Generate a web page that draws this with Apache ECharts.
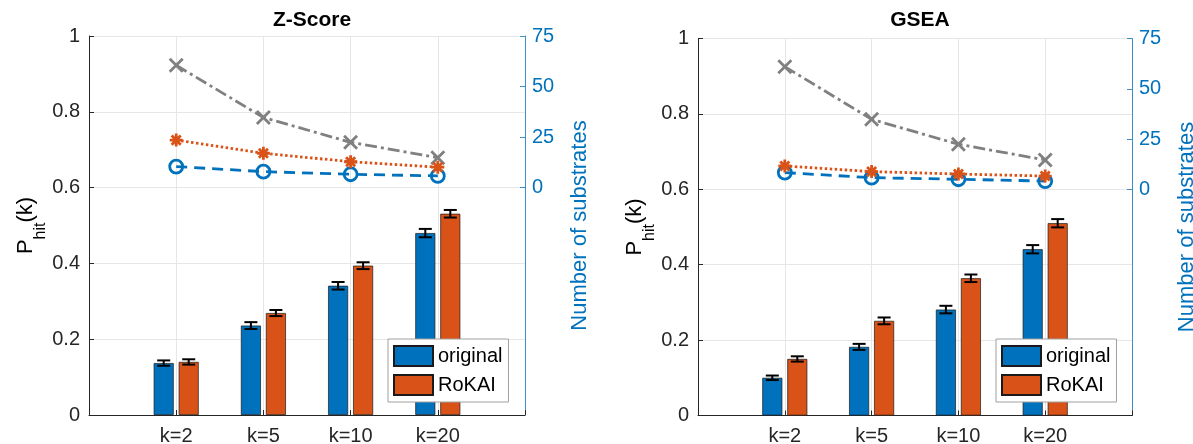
<!DOCTYPE html>
<html><head><meta charset="utf-8">
<script src="https://cdn.jsdelivr.net/npm/echarts@6/dist/echarts.min.js"></script>
<style>html,body{margin:0;padding:0;background:#fff}#c{width:1193px;height:444px}</style>
</head><body><div id="c"></div>
<script>
// ---- data ----
const categories = ['', 'k=2', 'k=5', 'k=10', 'k=20', ''];
const rightTicks = [0, 25, 50, 75];
const panelTitles = ['Z-Score', 'GSEA'];
const seriesNames = ['original', 'RoKAI'];
// Z-Score panel
const zOriginal = [0.137, 0.236, 0.341, 0.480];
const zOriginalErr = [0.007, 0.009, 0.010, 0.011];
const zRokai = [0.140, 0.269, 0.394, 0.531];
const zRokaiErr = [0.007, 0.008, 0.009, 0.010];
const zGray = [60.5, 34.7, 22.4, 14.8];
const zOrange = [23.5, 17.0, 12.8, 10.1];
const zBlue = [10.4, 7.9, 6.6, 5.8];
// GSEA panel
const gOriginal = [0.100, 0.182, 0.281, 0.441];
const gOriginalErr = [0.006, 0.008, 0.010, 0.011];
const gRokai = [0.150, 0.251, 0.364, 0.510];
const gRokaiErr = [0.007, 0.009, 0.010, 0.011];
const gGray = [61.0, 34.8, 22.4, 14.6];
const gOrange = [11.6, 8.8, 7.6, 6.6];
const gBlue = [8.3, 5.8, 5.0, 4.1];

// ---- styling / layout ----
const FONT = '"Liberation Sans", Arial, Helvetica, sans-serif';
const BLUE = '#0072BD', ORANGE = '#D95319', GRAY = '#808080', AX = '#262626', GRID = '#e6e6e6';
const grids = [
  {left: 89, top: 36, width: 436, height: 379},
  {left: 698, top: 38.5, width: 434, height: 377}
];
const legendPos = [{left: 388, top: 339}, {left: 996, top: 339}];
const titleX = [307, 915];
const panels = [
  {orig: zOriginal, origErr: zOriginalErr, rok: zRokai, rokErr: zRokaiErr, gray: zGray, orange: zOrange, blue: zBlue},
  {orig: gOriginal, origErr: gOriginalErr, rok: gRokai, rokErr: gRokaiErr, gray: gGray, orange: gOrange, blue: gBlue}
];
const pad = a => ['-'].concat(a, ['-']);
const errData = (v, e) => v.map((y, i) => [i + 1, y, e[i]]);
function errRender(offset) {
  return function (params, api) {
    const x = api.value(0), y = api.value(1), e = api.value(2);
    const t = api.coord([x, y + e]), b = api.coord([x, y - e]);
    const cx = t[0] + offset, hw = 6.5;
    const st = {stroke: '#000', lineWidth: 2};
    return {type: 'group', children: [
      {type: 'line', shape: {x1: cx, y1: t[1], x2: cx, y2: b[1]}, style: st},
      {type: 'line', shape: {x1: cx - hw, y1: t[1], x2: cx + hw, y2: t[1]}, style: st},
      {type: 'line', shape: {x1: cx - hw, y1: b[1], x2: cx + hw, y2: b[1]}, style: st}
    ]};
  };
}

const option = {
  animation: false,
  textStyle: {fontFamily: FONT},
  title: panelTitles.map((t, i) => ({
    text: t, left: titleX[i], top: 5, textAlign: 'center',
    textStyle: {fontSize: 21, fontWeight: 'bold', color: '#000', fontFamily: FONT}
  })),
  legend: legendPos.map(p => ({
    data: seriesNames, left: p.left, top: p.top, orient: 'vertical',
    itemWidth: 39, itemHeight: 20, itemGap: 7, padding: [6, 6, 6, 5],
    icon: 'rect', selectedMode: false, backgroundColor: '#fff',
    borderColor: '#a0a0a0', borderWidth: 1,
    textStyle: {fontSize: 20, color: '#000', fontFamily: FONT}
  })),
  grid: grids.map(g => Object.assign({outerBoundsMode: 'none', containLabel: false}, g)),
  xAxis: grids.map((g, i) => ({
    type: 'category', gridIndex: i, data: categories, boundaryGap: false,
    axisLine: {lineStyle: {color: AX, width: 1}},
    axisTick: {show: true, inside: true, length: 5, interval: 0, lineStyle: {color: AX}},
    axisLabel: {interval: 0, fontSize: 20, color: AX, margin: 11, fontFamily: FONT},
    splitLine: {show: true, interval: 0, lineStyle: {color: GRID}}
  })),
  yAxis: [],
  series: []
};

grids.forEach((g, i) => {
  option.yAxis.push({
    type: 'value', gridIndex: i, min: 0, max: 1, interval: 0.2, position: 'left',
    axisLine: {show: true, lineStyle: {color: AX}},
    axisTick: {show: true, inside: true, length: 5, lineStyle: {color: AX}},
    axisLabel: {fontSize: 20, color: AX, margin: 9, fontFamily: FONT},
    splitLine: {show: true, lineStyle: {color: GRID}},
    name: '{p|P}{s|hit}{p|(k)}', nameLocation: 'middle', nameRotate: 90, nameGap: 44,
    nameTextStyle: {
      color: '#000', fontFamily: FONT,
      rich: {
        p: {fontSize: 22, lineHeight: 24, verticalAlign: 'top', fontFamily: FONT, color: '#000'},
        s: {fontSize: 16, lineHeight: 16, padding: [17, 0, 0, 0], verticalAlign: 'top', fontFamily: FONT, color: '#000'}
      }
    }
  });
  option.yAxis.push({
    type: 'value', gridIndex: i, min: -112.5, max: 75, position: 'right',
    axisLine: {show: true, lineStyle: {color: '#3d8fca'}},
    axisTick: {show: true, inside: true, length: 5, customValues: rightTicks, lineStyle: {color: '#3d8fca'}},
    axisLabel: {fontSize: 20, color: BLUE, margin: 7, customValues: rightTicks, fontFamily: FONT},
    splitLine: {show: false},
    name: 'Number of substrates', nameLocation: 'middle', nameRotate: 90, nameGap: 44,
    nameTextStyle: {color: BLUE, fontSize: 22, fontFamily: FONT}
  });
  const p = panels[i];
  const ya = 2 * i, yb = 2 * i + 1;
  const barBase = {type: 'bar', xAxisIndex: i, yAxisIndex: ya, barWidth: 20, barGap: '25%', z: 2,
                   emphasis: {disabled: true}};
  option.series.push(Object.assign({}, barBase, {name: seriesNames[0], data: pad(p.orig),
    itemStyle: {color: BLUE, borderColor: '#1a1a1a', borderWidth: 0.7}}));
  option.series.push(Object.assign({}, barBase, {name: seriesNames[1], data: pad(p.rok),
    itemStyle: {color: ORANGE, borderColor: '#1a1a1a', borderWidth: 0.7}}));
  option.series.push({type: 'custom', name: 'errO' + i, xAxisIndex: i, yAxisIndex: ya, z: 3,
    data: errData(p.orig, p.origErr), renderItem: errRender(-12.5), encode: {x: 0, y: 1}});
  option.series.push({type: 'custom', name: 'errR' + i, xAxisIndex: i, yAxisIndex: ya, z: 3,
    data: errData(p.rok, p.rokErr), renderItem: errRender(12.5), encode: {x: 0, y: 1}});
  option.series.push({type: 'line', name: 'gray' + i, xAxisIndex: i, yAxisIndex: yb, z: 4,
    data: pad(p.gray), showSymbol: true, symbol: 'path://M0,0L10,10M10,0L0,10', symbolSize: 13,
    itemStyle: {color: GRAY, borderColor: GRAY, borderWidth: 2.8},
    lineStyle: {color: GRAY, width: 2.8, type: [12, 4, 3, 4]}, emphasis: {disabled: true}});
  option.series.push({type: 'line', name: 'orange' + i, xAxisIndex: i, yAxisIndex: yb, z: 5,
    data: pad(p.orange), showSymbol: true,
    symbol: 'path://M5,0L5,10M0,5L10,5M1.5,1.5L8.5,8.5M8.5,1.5L1.5,8.5', symbolSize: 13,
    itemStyle: {color: ORANGE, borderColor: ORANGE, borderWidth: 2.8},
    lineStyle: {color: ORANGE, width: 2.8, type: [2.5, 2.5]}, emphasis: {disabled: true}});
  option.series.push({type: 'line', name: 'blue' + i, xAxisIndex: i, yAxisIndex: yb, z: 4,
    data: pad(p.blue), showSymbol: true, symbol: 'circle', symbolSize: 13,
    itemStyle: {color: 'rgba(0,0,0,0)', borderColor: BLUE, borderWidth: 2.8},
    lineStyle: {color: BLUE, width: 2.8, type: [11, 7]}, emphasis: {disabled: true}});
});

const chart = echarts.init(document.getElementById('c'), null, {renderer: 'canvas'});
chart.setOption(option);
</script>
</body></html>
